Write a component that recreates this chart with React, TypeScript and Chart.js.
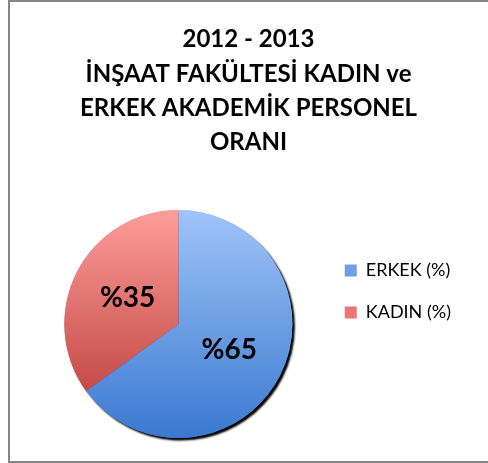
import React, { useEffect, useRef } from "react";
import { Chart, registerables } from "chart.js";

Chart.register(...registerables);

const categories: string[] = ["ERKEK (%)", "KADIN (%)"];
const values: number[] = [65, 35];
const titleLines: string[] = [
  "2012 - 2013",
  "İNŞAAT FAKÜLTESİ KADIN ve",
  "ERKEK AKADEMİK PERSONEL",
  "ORANI",
];
const gradTop: string[] = ["#9fc4f8", "#fc9d9a"];
const gradBottom: string[] = ["#3a79d0", "#b83532"];
const legendColors: string[] = ["#6f9fe6", "#ec7572"];

const FONT = "Lato, 'Open Sans', sans-serif";

export default function App() {
  const ref = useRef<HTMLCanvasElement | null>(null);

  useEffect(() => {
    if (!ref.current) return;

    const shadowPlugin = {
      id: "pieShadow",
      beforeDatasetsDraw(chart: any) {
        const ctx = chart.ctx;
        const meta = chart.getDatasetMeta(0);
        ctx.save();
        ctx.shadowColor = "rgba(0,0,0,1)";
        ctx.shadowBlur = 2;
        ctx.shadowOffsetX = 2.5;
        ctx.shadowOffsetY = 2.5;
        meta.data.forEach((arc: any) => arc.draw(ctx));
        ctx.restore();
      },
    };

    const labelPlugin = {
      id: "sliceLabels",
      afterDatasetsDraw(chart: any) {
        const ctx = chart.ctx;
        const meta = chart.getDatasetMeta(0);
        ctx.save();
        ctx.fillStyle = "#000";
        ctx.font = `bold 28px ${FONT}`;
        ctx.textAlign = "center";
        ctx.textBaseline = "middle";
        meta.data.forEach((arc: any, i: number) => {
          const p = arc.tooltipPosition(false);
          ctx.fillText("%" + values[i], p.x, p.y);
        });
        ctx.restore();
      },
    };

    const chart = new Chart(ref.current, {
      type: "pie",
      data: {
        labels: categories,
        datasets: [
          {
            data: values,
            borderWidth: 0,
            backgroundColor: (c: any) => {
              const ch = c.chart;
              const area = ch.chartArea;
              const i = c.dataIndex ?? 0;
              if (!area) return legendColors[i];
              const cy = (area.top + area.bottom) / 2;
              const r = Math.min(area.width, area.height) / 2;
              const g = ch.ctx.createLinearGradient(0, cy - r, 0, cy + r);
              g.addColorStop(0, gradTop[i]);
              g.addColorStop(1, gradBottom[i]);
              return g;
            },
          },
        ],
      },
      options: {
        animation: false,
        responsive: false,
        maintainAspectRatio: false,
        layout: { padding: { left: 26, right: 27, top: 0, bottom: 23 } },
        plugins: {
          tooltip: { enabled: false },
          title: {
            display: true,
            text: titleLines,
            color: "#000",
            font: { family: FONT, size: 24, weight: "bold", lineHeight: 1.43 },
            padding: { top: 20.3, bottom: 50.4 },
          },
          legend: {
            position: "right",
            align: "start",
            fullSize: false,
            title: {
              display: true,
              text: " ",
              font: { size: 12, lineHeight: 1.2 },
              padding: { top: 6.5, bottom: 6.6 },
            },
            labels: {
              boxWidth: 12,
              boxHeight: 12,
              padding: 24,
              color: "#000",
              font: { family: FONT, size: 18 },
              generateLabels: () =>
                categories.map((t, i) => ({
                  text: t,
                  fillStyle: legendColors[i],
                  strokeStyle: legendColors[i],
                  fontColor: "#000",
                  lineWidth: 0,
                  hidden: false,
                  index: i,
                  datasetIndex: 0,
                })),
            },
          },
        },
      },
      plugins: [shadowPlugin, labelPlugin],
    });
    return () => chart.destroy();
  }, []);

  return (
    <div
      style={{
        position: "fixed",
        left: 0,
        top: 0,
        width: 488,
        height: 463,
        background: "#fff",
        overflow: "hidden",
      }}
    >
      <div
        style={{
          position: "absolute",
          left: 8,
          top: 0,
          width: 500,
          height: 463,
          boxSizing: "border-box",
          border: "2px solid #868686",
          background: "#fff",
        }}
      />
      <canvas
        ref={ref}
        width={478}
        height={459}
        style={{ position: "absolute", left: 10, top: 2, width: 478, height: 459 }}
      />
    </div>
  );
}
